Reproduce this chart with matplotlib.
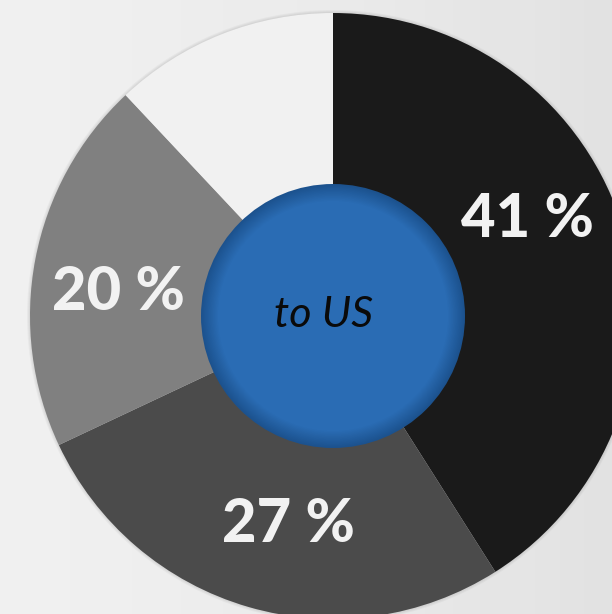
import numpy as np
import matplotlib.pyplot as plt
from matplotlib.patches import Circle

# Share of each group (clockwise from 12 o'clock)
labels = ["41 %", "27 %", "20 %", ""]
shares = [41, 27, 20, 12]
colors = ["#1a1a1a", "#4b4b4b", "#808080", "#f1f1f1"]
centre_text = "to US"

# label positions (pixels, measured from top-left)
label_xy = [(527, 219), (288, 524), (118, 292)]

W, H = 612, 614
cx, cy = 333, H - 316
R = 303
hole = 132

def main():
    fig = plt.figure(figsize=(6.12, 6.14), dpi=100)
    ax = fig.add_axes([0, 0, 1, 1])
    ax.set_xlim(0, W)
    ax.set_ylim(0, H)
    ax.set_aspect("equal")
    ax.axis("off")

    # light grey background, a bit darker to the right
    gx = np.linspace(0, 1, 200)
    grad = np.tile(0.94 - 0.065 * gx**1.5, (50, 1))
    ax.imshow(grad, extent=[0, W, 0, H], cmap="gray", vmin=0, vmax=1,
              aspect="auto", zorder=0)
    # faint rings in background
    for r, a in [(560, 0.05), (470, 0.04), (380, 0.03)]:
        ax.add_patch(Circle((cx - 40, cy + 20), r, facecolor="white",
                            edgecolor="none", alpha=a, zorder=0.5))

    # soft edge round the pie
    for k in range(4):
        ax.add_patch(Circle((cx, cy), R + 3 - k, facecolor="#000000",
                            edgecolor="none", alpha=0.03, zorder=1))

    ax.pie(shares, colors=colors, startangle=90, counterclock=False,
           center=(cx, cy), radius=R, frame=True,
           wedgeprops=dict(linewidth=0, zorder=2))
    ax.set_xlim(0, W)
    ax.set_ylim(0, H)
    ax.axis("off")

    for lab, (x, y) in zip(labels, label_xy):
        ax.text(x, H - y, lab, ha="center", va="center", color="#f2f2f2",
                fontsize=43, fontweight="black",
                family=["Lato", "DejaVu Sans"], zorder=5)

    # blue centre with darker rim
    c_out = np.array([0x1c, 0x52, 0x8e]) / 255
    c_in = np.array([0x2a, 0x6c, 0xb4]) / 255
    n = 14
    for k in range(n):
        t = k / (n - 1)
        col = c_out * (1 - t) + c_in * t
        ax.add_patch(Circle((cx, cy), hole - k * 1.3, facecolor=col,
                            edgecolor="none", zorder=4))

    ax.text(cx - 9, cy + 1, centre_text, ha="center", va="center",
            color="#0a0a0a", fontsize=31, style="italic",
            family=["Lato", "DejaVu Sans"], zorder=6)

    fig.savefig("out.png", dpi=100)

if __name__ == "__main__":
    main()
